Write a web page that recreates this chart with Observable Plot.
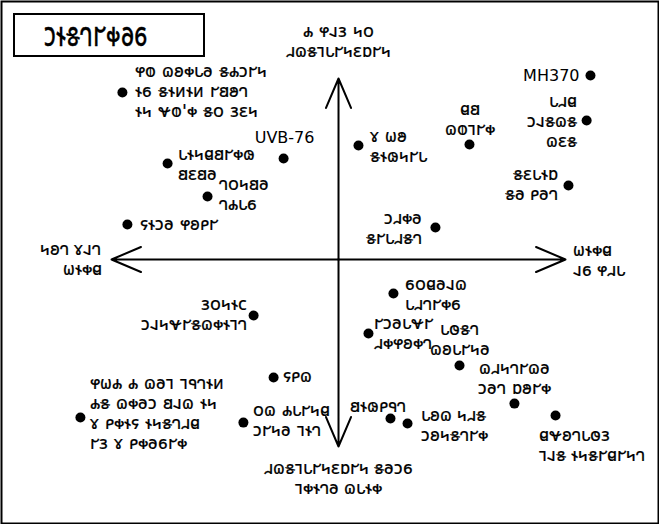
<!DOCTYPE html>
<html><head><meta charset="utf-8">
<script src="https://cdn.jsdelivr.net/npm/d3@7"></script>
<script src="https://cdn.jsdelivr.net/npm/@observablehq/plot@0.6"></script>
<style>
body{margin:0;background:#fff;font-family:"DejaVu Sans";}
#wrap{position:relative;width:659px;height:524px;}
#title{position:absolute;left:13px;top:13px;width:188px;height:40px;border:2px solid #000;font-size:25px;line-height:40px;text-align:left;font-family:"DejaVu Sans";white-space:nowrap;}
#title span{display:inline-block;margin-left:29px;transform:scaleY(1.4);-webkit-text-stroke:0.25px #000;}
</style>
</head><body><div id="wrap"><div id="title"><span>𐑋𐐮𐑅𐐻𐐲𐑉𐐨𐑆</span></div></div>
<script>
// Mystery labels (Deseret), weirdness (x) and how explained (y)
const labels = [
  "𐐸𐐭 𐐿𐐪𐑉𐑊𐐨 𐑅𐐴𐑋𐐲𐑌\n𐐮𐑆 𐑅𐐮𐑍𐐮𐑍 𐐲𐐺𐐵𐐻\n𐐮𐑌 𐐷𐐭'𐑉 𐑅𐐬 𐑂𐐩𐑌",
  "UVB-76",
  "MH370",
  "𐑄 𐐶𐐵\n𐑅𐐮𐑀𐑌𐐲𐑊",
  "𐐼𐐺\n𐐿𐐭𐐹𐐲𐑉",
  "𐑊𐐯𐐼\n𐑋𐐰𐑅𐐿𐑅\n𐐿𐐩𐑅",
  "𐑅𐐩𐑊𐐮𐑇\n𐑅𐐨 𐑁𐐨𐐻",
  "𐑊𐐮𐑌𐐼𐐺𐐲𐑉𐑀\n𐐺𐐩𐐺𐐨",
  "𐐻𐐬𐑌𐐺𐐨\n𐐻𐐴𐑊𐑆",
  "𐐾𐐮𐑋𐐨 𐐸𐐪𐑁𐐲",
  "𐑋𐐯𐑉𐐨\n𐑅𐐲𐑊𐐯𐑅𐐻",
  "𐑂𐐬𐑌𐐮𐐽\n𐑋𐐰𐑌𐐷𐐲𐑅𐐿𐑉𐐮𐐹𐐻",
  "𐑆𐐬𐐼𐐨𐐰𐐿\n𐑊𐐯𐐻𐐲𐑉𐑆",
  "𐐲𐑋𐐨𐑊𐐷𐐲\n𐐯𐑉𐐸𐐪𐑉𐐻",
  "𐑊𐐫𐑅𐐻\n𐐿𐐪𐑊𐐲𐑌𐐨",
  "𐐿𐐯𐑌𐐻𐐲𐐿𐐨\n𐑋𐐨𐐻 𐑇𐐵𐐲𐑉",
  "𐐼𐐷𐐪𐐻𐑊𐐫𐑂\n𐐹𐐰𐑅 𐐮𐑌𐑅𐐲𐐼𐐲𐑌𐐻",
  "𐑊𐐪𐐿 𐑌𐐯𐑅\n𐑋𐐪𐑌𐑅𐐻𐐲𐑉",
  "𐐺𐐮𐑀𐑁𐐳𐐻",
  "𐐾𐑁𐐿",
  "𐐬𐐿 𐐴𐑊𐐲𐑌𐐼\n𐑋𐐲𐑌𐐨 𐐹𐐮𐐻",
  "𐐸𐐶𐐴 𐐴 𐐿𐐨𐐹 𐐹𐐳𐐻𐐮𐑍\n𐐴𐑅 𐐿𐑉𐐨𐑋 𐐺𐐰𐐿 𐐮𐑌\n𐑄 𐑁𐑉𐐮𐐾 𐐮𐑌𐑅𐐻𐐯𐐼\n𐐲𐑂 𐑄 𐑁𐑉𐐨𐑆𐐲𐑉"
];
const weirdness = [-0.952,-0.242,1.110,0.088,0.577,1.093,1.013,-0.753,-0.577,-0.930,0.427,-0.374,0.242,0.132,0.533,0.775,0.956,0.304,0.229,-0.286,-0.419,-1.137];
const explained = [0.923,0.558,1.017,0.630,0.635,0.768,0.409,0.530,0.348,0.193,0.177,-0.309,-0.188,-0.409,-0.586,-0.796,-0.862,-0.906,-0.878,-0.652,-0.901,-0.873];

// Axis ends and labels
const axisEnds = [{x:-1,y:0},{x:1,y:0},{x:0,y:1},{x:0,y:-1.033}];
const axisLabels = ["𐑌𐐪𐐻 𐑄𐐰𐐻\n𐐶𐐮𐑉𐐼", "𐐶𐐮𐑉𐐼\n𐐰𐑆 𐐸𐐯𐑊", "𐐴 𐐸𐐰𐑂 𐑌𐐬\n𐐯𐐿𐑅𐐹𐑊𐐲𐑌𐐩𐑇𐐲𐑌", "𐐯𐐿𐑅𐐹𐑊𐐲𐑌𐐩𐑇𐐲𐑌 𐑅𐐨𐑋𐑆\n𐐹𐑉𐐮𐐻𐐨 𐐿𐑊𐐮𐑉"];

// label placement (style only)
const place = [
  ["start",13,-2],["middle",1,-21],["end",-11,0],["start",12,0],["middle",1,-26],
  ["end",-10,0],["end",-10,-2],["start",10,0],["start",11,-3],["start",13,-1],
  ["end",-13,0],["end",-7,-2],["start",12,0],["start",6,-1],["middle",0,-27],
  ["middle",0,-26],["start",-17,29],["start",13,1],["middle",-12,-13],["start",9,-2],
  ["start",10,-3],["start",10,-5]
];
const axisPlace = [["end",-10,-1],["start",7,0],["middle",0,-38],["middle",0,31]];

const deseretFont = {fontFamily:"DejaVu Sans", fontSize:18, lineHeight:1.1, fill:"black", stroke:"black", strokeWidth:0.2};
const latinFont = {fontFamily:"DejaVu Sans", fontSize:16, lineHeight:1.1, fill:"black"};
const isLatin = s => /^[A-Z0-9-]+$/.test(s);
const idx = d3.range(labels.length);

const marks = [
  Plot.frame({strokeWidth:2, inset:1}),
  ...axisEnds.map(e => Plot.arrow([e], {x1:()=>0, y1:()=>0, x2:"x", y2:"y", strokeWidth:2, headLength:24, headAngle:46, stroke:"black"})),
  Plot.dot(idx, {x:i=>weirdness[i], y:i=>explained[i], r:5, fill:"black", stroke:"none"}),
  ...idx.map(i => Plot.text([i], {x:i=>weirdness[i], y:i=>explained[i], text:i=>labels[i], textAnchor:place[i][0], dx:place[i][1], dy:place[i][2], lineAnchor:"middle", ...(isLatin(labels[i]) ? latinFont : deseretFont)})),
  ...axisEnds.map((e,i) => Plot.text([e], {x:"x", y:"y", text:()=>axisLabels[i], textAnchor:axisPlace[i][0], dx:axisPlace[i][1], dy:axisPlace[i][2], lineAnchor:"middle", ...deseretFont}))
];

const chart = Plot.plot({
  width:659, height:524, margin:0,
  x:{domain:[-1.489,1.414], axis:null},
  y:{domain:[-1.464,1.431], axis:null},
  style:{fontFamily:"DejaVu Sans", background:"white"},
  marks
});
document.getElementById("wrap").prepend(chart);
</script></body></html>
